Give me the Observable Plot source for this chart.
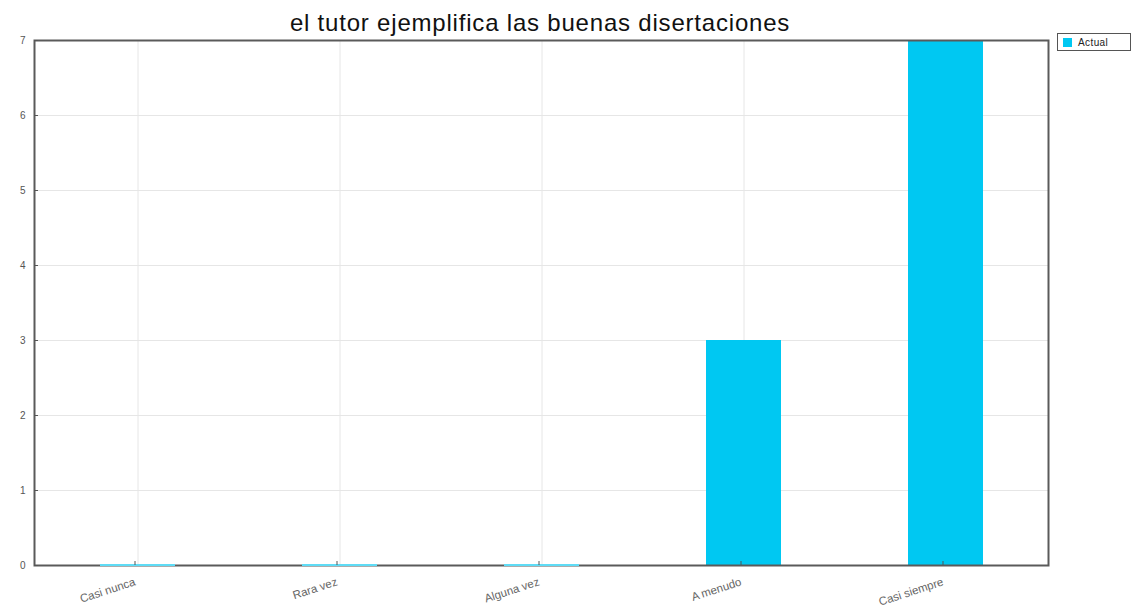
<!DOCTYPE html>
<html><head><meta charset="utf-8">
<script src="https://cdn.jsdelivr.net/npm/d3@7"></script>
<script src="https://cdn.jsdelivr.net/npm/@observablehq/plot@0.6"></script>
<style>
body{margin:0;background:#fff;font-family:"Liberation Sans",Arial,sans-serif;}
#wrap{position:relative;width:1134px;height:614px;}
#title{position:absolute;left:0;top:9px;width:1080px;text-align:center;font-size:24px;letter-spacing:0.8px;color:#111;line-height:28px;}
#legend{position:absolute;left:1057px;top:33px;width:72px;height:16px;border:1.5px solid #555;font-size:10px;letter-spacing:0.4px;color:#222;display:flex;align-items:center;}
#legend span.sw{display:inline-block;width:9px;height:9px;background:#00c8f2;margin:0 6px 0 5px;}
</style></head>
<body><div id="wrap"><div id="chart"></div><div id="title"></div><div id="legend"><span class="sw"></span><span id="legtext"></span></div></div>
<script>
const title = "el tutor ejemplifica las buenas disertaciones";
const categories = ["Casi nunca", "Rara vez", "Alguna vez", "A menudo", "Casi siempre"];
const values = [0, 0, 0, 3, 7];
const seriesName = "Actual";
const yTicks = [0, 1, 2, 3, 4, 5, 6, 7];
const barColor = "#00c8f2";

const data = categories.map((c, i) => ({cat: c, value: values[i]}));
document.getElementById("title").textContent = title;
document.getElementById("legtext").textContent = seriesName;

const chart = Plot.plot({
  width: 1134, height: 614,
  marginTop: 40, marginBottom: 49, marginLeft: 34, marginRight: 86,
  style: {fontFamily: "Liberation Sans, Arial, sans-serif", fontSize: "10px"},
  x: {domain: categories, paddingInner: 0.63, paddingOuter: 0.315, label: null},
  y: {domain: [0, 7], label: null},
  marks: [
    Plot.gridY(yTicks, {stroke: "#e6e6e6", strokeOpacity: 1}),
    Plot.gridX(categories, {stroke: "#e6e6e6", strokeOpacity: 1}),
    Plot.barY(data, {x: "cat", y: "value", fill: barColor}),
    Plot.frame({stroke: "#5a5a5a", strokeWidth: 2}),
    Plot.tickY(data, {filter: d => d.value === 0, x: "cat", y: "value", stroke: "#5fdcf6", strokeWidth: 2, dy: -0.5}),
    Plot.axisY(yTicks, {tickSize: -4, tickPadding: 13, tickFormat: "d", stroke: "#555", fill: "#555", fontSize: 10, letterSpacing: 0.5}),
    Plot.axisX(categories, {tickSize: -4, tickPadding: 20, tickRotate: -18, textAnchor: "end", dx: -3, stroke: "#555", fill: "#666", fontSize: 11.5, letterSpacing: 0.6})
  ]
});
document.getElementById("chart").appendChild(chart);
</script></body></html>
